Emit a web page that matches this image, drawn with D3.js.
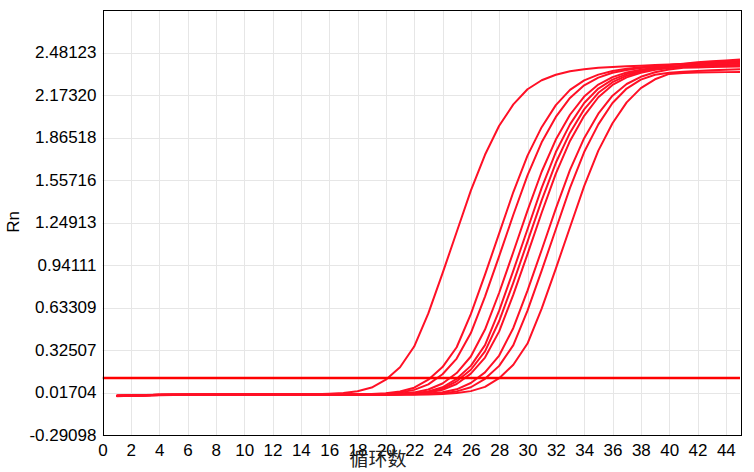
<!DOCTYPE html>
<html><head><meta charset="utf-8">
<script src="https://cdn.jsdelivr.net/npm/d3@7"></script>
<style>
body{margin:0;background:#fff}
svg{display:block;background:#fff}
text{font-family:"Liberation Sans",Arial,sans-serif}
</style>
</head><body><svg id="c" width="754" height="472"></svg>
<script>
// ---- data ----
const cycles = d3.range(1, 46);
const curve1  = [-0.009,-0.006,-0.003,-0.001,0.000,0.001,0.001,0.001,0.002,0.002, 0.002,0.003,0.003,0.004,0.005,0.008,0.013,0.026,0.053,0.110, 0.200,0.350,0.590,0.880,1.180,1.480,1.740,1.950,2.105,2.215, 2.280,2.320,2.345,2.360,2.370,2.376,2.381,2.386,2.390,2.394, 2.398,2.402,2.405,2.408,2.410];
const curve2  = [-0.007,-0.005,-0.002,0.000,0.001,0.001,0.001,0.002,0.002,0.002, 0.002,0.002,0.003,0.003,0.003,0.003,0.003,0.004,0.007,0.012, 0.024,0.052,0.110,0.201,0.345,0.585,0.871,1.170,1.470,1.734, 1.940,2.100,2.210,2.279,2.321,2.347,2.363,2.374,2.382,2.390, 2.397,2.404,2.410,2.415,2.420];
const curve3  = [-0.010,-0.007,-0.004,-0.002,-0.001,0.000,0.000,0.001,0.001,0.001, 0.001,0.001,0.002,0.002,0.002,0.002,0.002,0.002,0.004,0.008, 0.017,0.036,0.076,0.149,0.263,0.448,0.712,1.005,1.305,1.591, 1.830,2.014,2.152,2.243,2.299,2.334,2.355,2.369,2.380,2.390, 2.400,2.410,2.417,2.424,2.430];
const curve4  = [-0.006,-0.004,-0.002,0.000,0.001,0.002,0.002,0.002,0.003,0.003, 0.003,0.003,0.003,0.003,0.003,0.002,0.002,0.002,0.002,0.004, 0.009,0.018,0.039,0.082,0.158,0.278,0.473,0.740,1.035,1.335, 1.617,1.850,2.030,2.162,2.249,2.303,2.336,2.357,2.370,2.378, 2.384,2.389,2.393,2.397,2.400];
const curve5  = [-0.008,-0.005,-0.003,-0.001,0.000,0.000,0.001,0.001,0.001,0.001, 0.002,0.002,0.002,0.002,0.002,0.002,0.002,0.002,0.002,0.003, 0.006,0.012,0.025,0.055,0.116,0.210,0.360,0.610,0.900,1.200, 1.500,1.760,1.960,2.115,2.220,2.285,2.325,2.350,2.365,2.375, 2.385,2.395,2.403,2.412,2.420];
const curve6  = [-0.005,-0.003,-0.001,0.000,0.001,0.001,0.002,0.002,0.002,0.002, 0.002,0.003,0.003,0.003,0.002,0.002,0.002,0.002,0.002,0.002, 0.005,0.010,0.021,0.046,0.098,0.182,0.315,0.535,0.813,1.110, 1.410,1.682,1.900,2.069,2.189,2.266,2.313,2.343,2.360,2.372, 2.378,2.382,2.385,2.388,2.390];
const curve7  = [-0.009,-0.006,-0.003,-0.001,0.000,0.000,0.000,0.001,0.001,0.001, 0.001,0.001,0.001,0.002,0.002,0.002,0.002,0.002,0.002,0.002, 0.004,0.008,0.017,0.037,0.079,0.154,0.270,0.460,0.726,1.020, 1.320,1.604,1.840,2.022,2.157,2.246,2.301,2.335,2.356,2.369, 2.379,2.387,2.395,2.402,2.410];
const curve8  = [-0.007,-0.004,-0.002,0.000,0.001,0.001,0.001,0.002,0.002,0.002, 0.002,0.002,0.002,0.002,0.002,0.003,0.003,0.002,0.002,0.002, 0.002,0.005,0.009,0.019,0.040,0.086,0.163,0.285,0.485,0.755, 1.050,1.350,1.630,1.860,2.038,2.168,2.253,2.305,2.338,2.358, 2.370,2.373,2.376,2.378,2.380];
const curve9  = [-0.006,-0.004,-0.002,-0.001,0.000,0.001,0.001,0.001,0.001,0.002, 0.002,0.002,0.002,0.002,0.002,0.002,0.002,0.002,0.002,0.002, 0.002,0.003,0.006,0.012,0.025,0.055,0.116,0.210,0.360,0.610, 0.900,1.200,1.500,1.760,1.960,2.115,2.220,2.285,2.320,2.335, 2.342,2.348,2.353,2.357,2.360];
const curve10 = [-0.008,-0.005,-0.002,0.000,0.000,0.001,0.001,0.001,0.001,0.001, 0.001,0.001,0.001,0.001,0.001,0.001,0.001,0.001,0.001,0.001, 0.002,0.002,0.003,0.006,0.013,0.027,0.058,0.121,0.218,0.372, 0.625,0.915,1.215,1.513,1.770,1.968,2.120,2.223,2.287,2.326, 2.333,2.336,2.338,2.339,2.340];
const seriesValues = [curve1, curve2, curve3, curve4, curve5, curve6, curve7, curve8, curve9, curve10];
const yTickValues = [-0.29098, 0.01704, 0.32507, 0.63309, 0.94111, 1.24913, 1.55716, 1.86518, 2.17320, 2.48123];
const yTickLabels = ["-0.29098","0.01704","0.32507","0.63309","0.94111","1.24913","1.55716","1.86518","2.17320","2.48123"];
const xTickValues = [0,2,4,6,8,10,12,14,16,18,20,22,24,26,28,30,32,34,36,38,40,42,44];
const thresholdValue = 0.122;
const xTitle = "循环数";
const yTitle = "Rn";

// ---- chart ----
const svg = d3.select("#c");
const m = {l: 102.5, r: 740, t: 10, b: 435};
const x = d3.scaleLinear().domain([0, 45]).range([m.l, m.r]);
const y = d3.scaleLinear().domain([-0.29098, 2.78926]).range([m.b, m.t]);

const grid = svg.append("g").attr("stroke", "#e6e6e6").attr("stroke-width", 1);
grid.selectAll("line.v").data(xTickValues.filter(d => d > 0)).join("line")
  .attr("class", "v")
  .attr("x1", d => Math.round(x(d)) + 0.5).attr("x2", d => Math.round(x(d)) + 0.5)
  .attr("y1", m.t).attr("y2", m.b);
grid.selectAll("line.h").data(yTickValues).join("line")
  .attr("class", "h")
  .attr("y1", d => Math.round(y(d)) + 0.5).attr("y2", d => Math.round(y(d)) + 0.5)
  .attr("x1", m.l).attr("x2", m.r);

svg.append("clipPath").attr("id", "clip").append("rect")
  .attr("x", m.l).attr("y", m.t).attr("width", m.r - m.l).attr("height", m.b - m.t);

const plot = svg.append("g").attr("clip-path", "url(#clip)");
const line = d3.line().x((d, i) => x(cycles[i])).y(d => y(d)).curve(d3.curveLinear);
plot.selectAll("path.s").data(seriesValues).join("path")
  .attr("class", "s")
  .attr("d", line)
  .attr("fill", "none")
  .attr("stroke", "#ff1026")
  .attr("stroke-width", 2)
  .attr("stroke-linejoin", "round");

plot.append("line")
  .attr("x1", m.l).attr("x2", m.r)
  .attr("y1", y(thresholdValue)).attr("y2", y(thresholdValue))
  .attr("stroke", "#ff0000").attr("stroke-width", 2.4);

svg.append("rect")
  .attr("x", Math.round(m.l) + 0.5).attr("y", m.t + 0.5)
  .attr("width", Math.round(m.r - m.l)).attr("height", m.b - m.t)
  .attr("fill", "none").attr("stroke", "#000").attr("stroke-width", 1);

const yAxis = svg.append("g").attr("transform", `translate(${m.l},0)`)
  .call(d3.axisLeft(y).tickValues(yTickValues).tickFormat((d, i) => yTickLabels[i]).tickSize(0).tickPadding(6));
yAxis.select(".domain").remove();
yAxis.selectAll("text").attr("font-size", 17).attr("fill", "#000")
  .attr("font-family", "'Liberation Sans', Arial, sans-serif");

const xAxis = svg.append("g").attr("transform", `translate(0,${m.b})`)
  .call(d3.axisBottom(x).tickValues(xTickValues).tickFormat(d3.format("d")).tickSize(0).tickPadding(9));
xAxis.select(".domain").remove();
xAxis.selectAll("text").attr("font-size", 17).attr("fill", "#000")
  .attr("font-family", "'Liberation Sans', Arial, sans-serif");

svg.append("text")
  .attr("x", 378).attr("y", 466)
  .attr("text-anchor", "middle")
  .attr("font-size", 19)
  .attr("fill", "#222")
  .style("font-family", "'Noto Sans CJK SC', sans-serif")
  .text(xTitle);

svg.append("text")
  .attr("transform", "translate(19,222) rotate(-90)")
  .attr("text-anchor", "middle")
  .attr("font-size", 17)
  .attr("fill", "#000")
  .text(yTitle);
</script>
</body></html>
